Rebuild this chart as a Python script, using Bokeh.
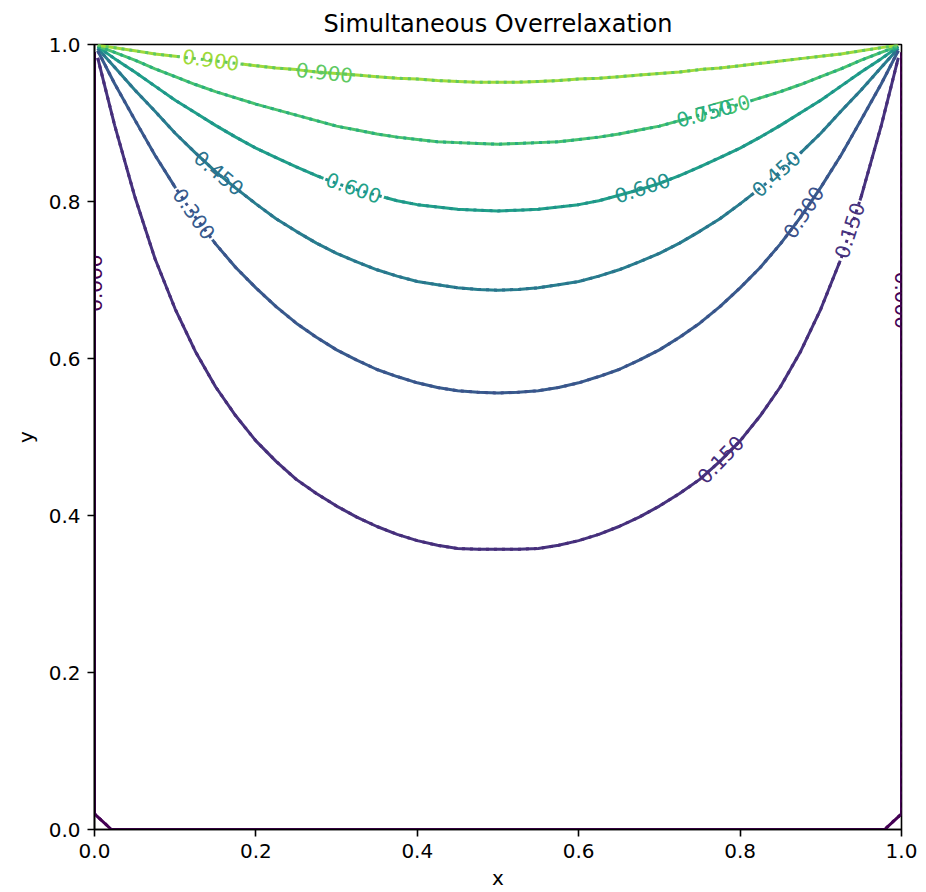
from bokeh.plotting import figure
from bokeh.models import ColumnDataSource, FixedTicker, Range1d
from bokeh.core.properties import value
from bokeh.embed import file_html
from bokeh.resources import INLINE

# ---- data ----
levels = [0.0, 0.15, 0.30, 0.45, 0.60, 0.75, 0.90]

c000_x = [0.0, 0.0, 0.021, 0.979, 1.0, 1.0]
c000_y = [0.99, 0.02, 0.0, 0.0, 0.02, 0.99]

c015_x = [0.004, 0.0125, 0.025, 0.05, 0.075, 0.1, 0.125, 0.15, 0.175, 0.2, 0.225, 0.25, 0.275, 0.3, 0.325, 0.35, 0.375, 0.4, 0.425, 0.45, 0.475,
          0.5,
          0.525, 0.55, 0.575, 0.6, 0.625, 0.65, 0.675, 0.7, 0.725, 0.75, 0.775, 0.8, 0.825, 0.85, 0.875, 0.9, 0.925, 0.95, 0.975, 0.9875, 0.996]
c015_y = [0.983, 0.948, 0.897, 0.806, 0.727, 0.663, 0.609, 0.564, 0.527, 0.495, 0.469, 0.446, 0.428, 0.412, 0.398, 0.386, 0.376, 0.368, 0.362, 0.358, 0.357,
          0.357,
          0.357, 0.358, 0.362, 0.368, 0.376, 0.386, 0.398, 0.412, 0.428, 0.446, 0.469, 0.495, 0.527, 0.564, 0.609, 0.663, 0.727, 0.806, 0.897, 0.948, 0.983]

grid_x = [0.004, 0.025, 0.05, 0.075, 0.1, 0.125, 0.15, 0.175, 0.2, 0.225, 0.25, 0.275, 0.3, 0.325, 0.35, 0.375, 0.4, 0.425, 0.45, 0.475,
          0.5,
          0.525, 0.55, 0.575, 0.6, 0.625, 0.65, 0.675, 0.7, 0.725, 0.75, 0.775, 0.8, 0.825, 0.85, 0.875, 0.9, 0.925, 0.95, 0.975, 0.996]

c030_y = [0.992, 0.950, 0.904, 0.859, 0.818, 0.780, 0.746, 0.716, 0.690, 0.666, 0.645, 0.627, 0.611, 0.598, 0.586, 0.577, 0.569, 0.563, 0.559, 0.557,
          0.556,
          0.557, 0.559, 0.563, 0.569, 0.577, 0.586, 0.598, 0.611, 0.627, 0.645, 0.666, 0.690, 0.716, 0.746, 0.780, 0.818, 0.859, 0.904, 0.950, 0.992]

c045_y = [0.995, 0.971, 0.942, 0.915, 0.887, 0.862, 0.838, 0.817, 0.797, 0.778, 0.762, 0.747, 0.734, 0.723, 0.713, 0.705, 0.698, 0.694, 0.690, 0.688,
          0.687,
          0.688, 0.690, 0.694, 0.698, 0.705, 0.713, 0.723, 0.734, 0.747, 0.762, 0.778, 0.797, 0.817, 0.838, 0.862, 0.887, 0.915, 0.942, 0.971, 0.995]

c060_y = [0.997, 0.982, 0.965, 0.947, 0.929, 0.913, 0.897, 0.882, 0.868, 0.856, 0.844, 0.833, 0.823, 0.815, 0.808, 0.801, 0.796, 0.793, 0.790, 0.789,
          0.788,
          0.789, 0.790, 0.793, 0.796, 0.801, 0.808, 0.815, 0.823, 0.833, 0.844, 0.856, 0.868, 0.882, 0.897, 0.913, 0.929, 0.947, 0.965, 0.982, 0.997]

c075_y = [0.998, 0.990, 0.980, 0.969, 0.959, 0.949, 0.940, 0.932, 0.924, 0.917, 0.910, 0.903, 0.896, 0.891, 0.886, 0.882, 0.879, 0.876, 0.875, 0.874,
          0.873,
          0.874, 0.875, 0.876, 0.879, 0.882, 0.886, 0.891, 0.896, 0.903, 0.910, 0.917, 0.924, 0.932, 0.940, 0.949, 0.959, 0.969, 0.980, 0.990, 0.998]

c090_y = [0.999, 0.996, 0.992, 0.988, 0.985, 0.982, 0.979, 0.976, 0.973, 0.970, 0.968, 0.965, 0.963, 0.961, 0.959, 0.957, 0.956, 0.954, 0.953, 0.952,
          0.952,
          0.952, 0.953, 0.954, 0.956, 0.957, 0.959, 0.961, 0.963, 0.965, 0.968, 0.970, 0.973, 0.976, 0.979, 0.982, 0.985, 0.988, 0.992, 0.996, 0.999]

# inline contour labels: solid set (A) and dotted set (B)
labA_text = ["0.900", "0.600", "0.300", "0.450", "0.150", "0.750"]
labA_x = [0.144, 0.321, 0.123, 0.845, 0.936, 0.778]
labA_y = [0.980, 0.817, 0.784, 0.835, 0.763, 0.918]
labA_level = [0.90, 0.60, 0.30, 0.45, 0.15, 0.75]

labB_text = ["0.900", "0.450", "0.600", "0.300", "0.150", "0.750", "0.000", "0.000"]
labB_x = [0.285, 0.154, 0.679, 0.879, 0.776, 0.756, 0.0, 1.0]
labB_y = [0.964, 0.836, 0.817, 0.786, 0.471, 0.912, 0.696, 0.674]
labB_level = [0.90, 0.45, 0.60, 0.30, 0.15, 0.75, 0.0, 0.0]

x_ticks = [0.0, 0.2, 0.4, 0.6, 0.8, 1.0]
x_tick_labels = ["0.0", "0.2", "0.4", "0.6", "0.8", "1.0"]
y_ticks = [0.0, 0.2, 0.4, 0.6, 0.8, 1.0]
y_tick_labels = ["0.0", "0.2", "0.4", "0.6", "0.8", "1.0"]

# ---- styles ----
colors_A = ["#440154", "#46337e", "#375b8d", "#277f8e", "#1fa188", "#4ac26d", "#a0da39"]
colors_B = ["#440154", "#472c7a", "#3b528b", "#2c728e", "#21918c", "#28ae80", "#5ec962"]
labA_angle = [-8, -19, -55, 42, 72, 15]
labB_angle = [-6, -40, 18, 57, 46, 15, 90, -90]
FONT = "DejaVu Sans"

all_x = [c000_x, c015_x, grid_x, grid_x, grid_x, grid_x, grid_x]
all_y = [c000_y, c015_y, c030_y, c045_y, c060_y, c075_y, c090_y]

p = figure(width=918, height=892, x_range=Range1d(0, 1), y_range=Range1d(0, 1),
           output_backend="svg", toolbar_location=None,
           min_border_left=94, min_border_right=17, min_border_top=44, min_border_bottom=63)
p.background_fill_color = "white"
p.border_fill_color = "white"
p.outline_line_color = "black"
p.outline_line_width = 1.6
p.outline_line_alpha = 1.0
p.xgrid.visible = False
p.ygrid.visible = False

p.title.text = "Simultaneous Overrelaxation"
p.title.align = "center"
p.title.text_font = FONT
p.title.text_font_size = "24px"
p.title.text_font_style = "normal"
p.title.text_color = "black"
p.title.standoff = 14

for ax, ticks, labels, name, lstand in [(p.xaxis[0], x_ticks, x_tick_labels, "x", 5),
                                        (p.yaxis[0], y_ticks, y_tick_labels, "y", 8)]:
    ax.ticker = FixedTicker(ticks=ticks)
    ax.major_label_overrides = {t: l for t, l in zip(ticks, labels)}
    ax.axis_label = name
    ax.axis_label_text_font = FONT
    ax.axis_label_text_font_size = "20px"
    ax.axis_label_text_font_style = "normal"
    ax.axis_label_text_color = "black"
    ax.axis_label_standoff = lstand
    ax.major_label_text_font = FONT
    ax.major_label_text_font_size = "20px"
    ax.major_label_text_color = "black"
    ax.major_label_standoff = 7
    ax.major_tick_out = 7
    ax.major_tick_in = 0
    ax.minor_tick_out = 0
    ax.minor_tick_in = 0
    ax.axis_line_width = 1.6
    ax.axis_line_color = "black"
    ax.major_tick_line_width = 1.6
    ax.major_tick_line_color = "black"

lvl_idx = {lv: i for i, lv in enumerate(levels)}

# solid contour set
srcA = ColumnDataSource(dict(xs=all_x, ys=all_y, color=colors_A))
p.multi_line(xs="xs", ys="ys", line_color="color", line_width=3, line_join="round", source=srcA)

srcLA = ColumnDataSource(dict(x=labA_x, y=labA_y, text=labA_text, angle=labA_angle,
                              color=[colors_A[lvl_idx[l]] for l in labA_level]))
p.text(x="x", y="y", text="text", angle="angle", angle_units="deg", source=srcLA,
       text_color="color", text_font=value(FONT), text_font_size="20px",
       text_align="center", text_baseline="middle",
       background_fill_color="white", padding=3)

# dotted contour set
srcB = ColumnDataSource(dict(xs=all_x, ys=all_y, color=colors_B))
p.multi_line(xs="xs", ys="ys", line_color="color", line_width=3, line_dash="3 5", source=srcB)

srcLB = ColumnDataSource(dict(x=labB_x, y=labB_y, text=labB_text, angle=labB_angle,
                              color=[colors_B[lvl_idx[l]] for l in labB_level]))
p.text(x="x", y="y", text="text", angle="angle", angle_units="deg", source=srcLB,
       text_color="color", text_font=value(FONT), text_font_size="20px",
       text_align="center", text_baseline="middle")

open("out.html", "w").write(file_html(p, INLINE))
